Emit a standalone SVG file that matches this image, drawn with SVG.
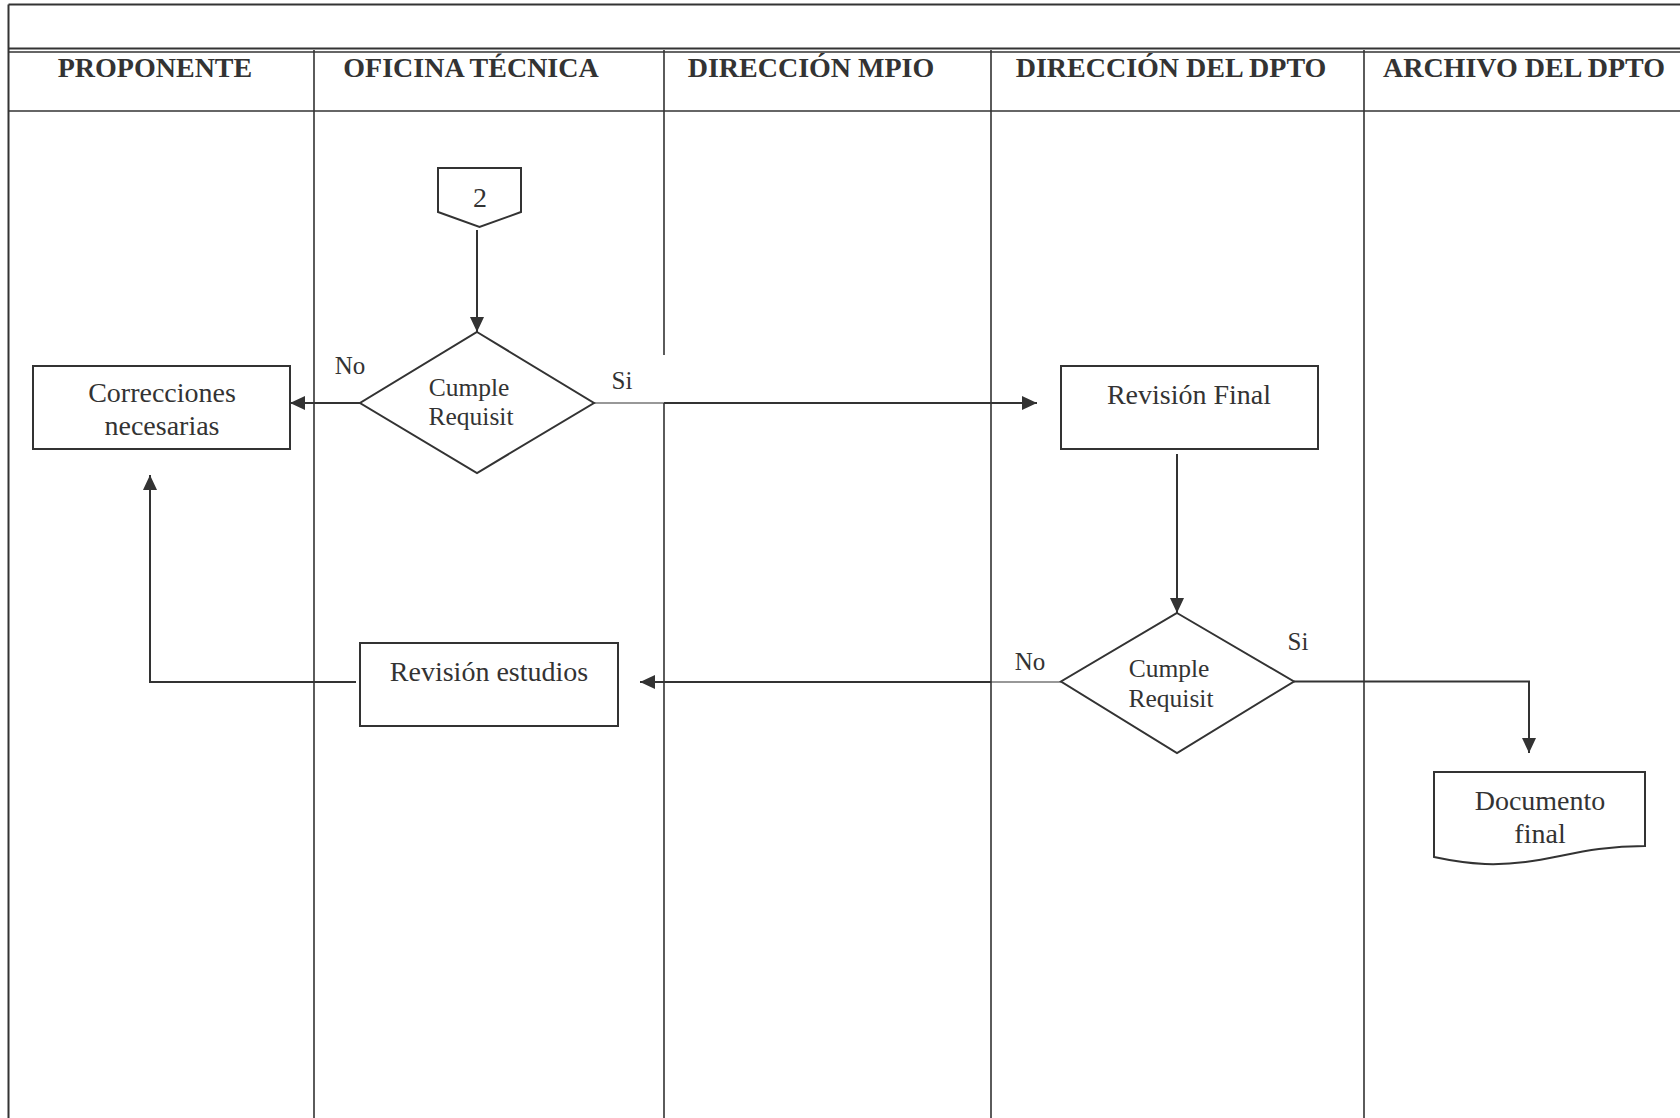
<svg xmlns="http://www.w3.org/2000/svg" width="1680" height="1118" viewBox="0 0 1680 1118">
  <style>
    .frame { fill: none; stroke: #333; stroke-width: 2; }
    .lane { fill: none; stroke: #333; stroke-width: 1.6; }
    .box { fill: #fff; stroke: #333; stroke-width: 2; }
    .flow { fill: none; stroke: #333; stroke-width: 2; }
    .thin { fill: none; stroke: #333; stroke-width: 1.2; }
    .head { font-family: "Liberation Serif", "Times New Roman", serif; font-weight: bold; font-size: 28px; fill: #333; }
    .lbl { font-family: "Liberation Serif", "Times New Roman", serif; font-size: 28px; fill: #333; text-anchor: middle; }
    .dlbl { font-family: "Liberation Serif", "Times New Roman", serif; font-size: 25.5px; fill: #333; text-anchor: middle; }
    .tag { font-family: "Liberation Serif", "Times New Roman", serif; font-size: 25px; fill: #333; text-anchor: middle; }
  </style>
  <defs>
    <marker id="arrow" viewBox="0 0 15 14" refX="15" refY="7" markerWidth="15" markerHeight="14" markerUnits="userSpaceOnUse" orient="auto">
      <path d="M0,0 L15,7 L0,14 Z" fill="#333"/>
    </marker>
  </defs>
  <rect width="1680" height="1118" fill="#fff"/>

  <!-- swimlane frame -->
  <g id="lanes">
    <line class="frame" x1="8.5" y1="4.5" x2="1680" y2="4.5"/>
    <line class="frame" x1="8.5" y1="4.5" x2="8.5" y2="1118"/>
    <line class="frame" x1="8.5" y1="48.5" x2="1680" y2="48.5"/>
    <line class="lane" x1="8.5" y1="52" x2="1680" y2="52"/>
    <line class="lane" x1="8.5" y1="111" x2="1680" y2="111"/>
    <line class="lane" x1="314" y1="50" x2="314" y2="1118"/>
    <line class="lane" x1="664" y1="50" x2="664" y2="355"/>
    <line class="lane" x1="664" y1="403" x2="664" y2="1118"/>
    <line class="lane" x1="991" y1="50" x2="991" y2="1118"/>
    <line class="lane" x1="1364" y1="50" x2="1364" y2="1118"/>
    <text class="head" x="155" y="77" text-anchor="middle">PROPONENTE</text>
    <text class="head" x="471" y="77" text-anchor="middle">OFICINA TÉCNICA</text>
    <text class="head" x="811" y="77" text-anchor="middle">DIRECCIÓN MPIO</text>
    <text class="head" x="1171" y="77" text-anchor="middle">DIRECCIÓN DEL DPTO</text>
    <text class="head" x="1524" y="77" text-anchor="middle">ARCHIVO DEL DPTO</text>
  </g>

  <!-- connectors -->
  <g id="connectors">
    <line class="flow" x1="477" y1="230" x2="477" y2="332" marker-end="url(#arrow)"/>
    <line class="flow" x1="360" y1="403" x2="290" y2="403" marker-end="url(#arrow)"/>
    <line class="thin" x1="594" y1="403" x2="664" y2="403"/>
    <line class="flow" x1="664" y1="403" x2="1037" y2="403" marker-end="url(#arrow)"/>
    <line class="flow" x1="1177" y1="454" x2="1177" y2="613" marker-end="url(#arrow)"/>
    <polyline class="flow" points="1294,681.5 1529,681.5 1529,753" marker-end="url(#arrow)"/>
    <line class="thin" x1="1061" y1="682" x2="991" y2="682"/>
    <line class="flow" x1="991" y1="682" x2="640" y2="682" marker-end="url(#arrow)"/>
    <polyline class="flow" points="356,682 150,682 150,475" marker-end="url(#arrow)"/>
    <text class="tag" x="350" y="374">No</text>
    <text class="tag" x="622" y="389">Si</text>
    <text class="tag" x="1030" y="670">No</text>
    <text class="tag" x="1298" y="650">Si</text>
  </g>

  <!-- off-page connector 2 -->
  <g id="node-conn2">
    <path class="box" d="M438,168 H521 V212 L479.5,227 L438,212 Z"/>
    <text class="lbl" x="480" y="207">2</text>
  </g>

  <!-- first requirement check -->
  <g id="node-check1">
    <path class="box" d="M477,332 L594,403 L477,473 L360,403 Z"/>
    <text class="dlbl" x="469" y="396">Cumple</text>
    <text class="dlbl" x="471" y="425">Requisit</text>
  </g>

  <g id="node-correcciones">
    <rect class="box" x="33" y="366" width="257" height="83"/>
    <text class="lbl" x="162" y="402">Correcciones</text>
    <text class="lbl" x="162" y="435">necesarias</text>
  </g>

  <g id="node-revision-final">
    <rect class="box" x="1061" y="366" width="257" height="83"/>
    <text class="lbl" x="1189" y="404">Revisión Final</text>
  </g>

  <!-- second requirement check -->
  <g id="node-check2">
    <path class="box" d="M1177,613 L1294,681.5 L1177,753 L1061,681.5 Z"/>
    <text class="dlbl" x="1169" y="677">Cumple</text>
    <text class="dlbl" x="1171" y="707">Requisit</text>
  </g>

  <g id="node-revision-estudios">
    <rect class="box" x="360" y="643" width="258" height="83"/>
    <text class="lbl" x="489" y="681">Revisión estudios</text>
  </g>

  <g id="node-documento">
    <path class="box" d="M1434,772 H1645 V846 C1575,846 1545,866 1485,864 C1465,863 1448,860 1434,857 Z"/>
    <text class="lbl" x="1540" y="810">Documento</text>
    <text class="lbl" x="1540" y="843">final</text>
  </g>
</svg>
